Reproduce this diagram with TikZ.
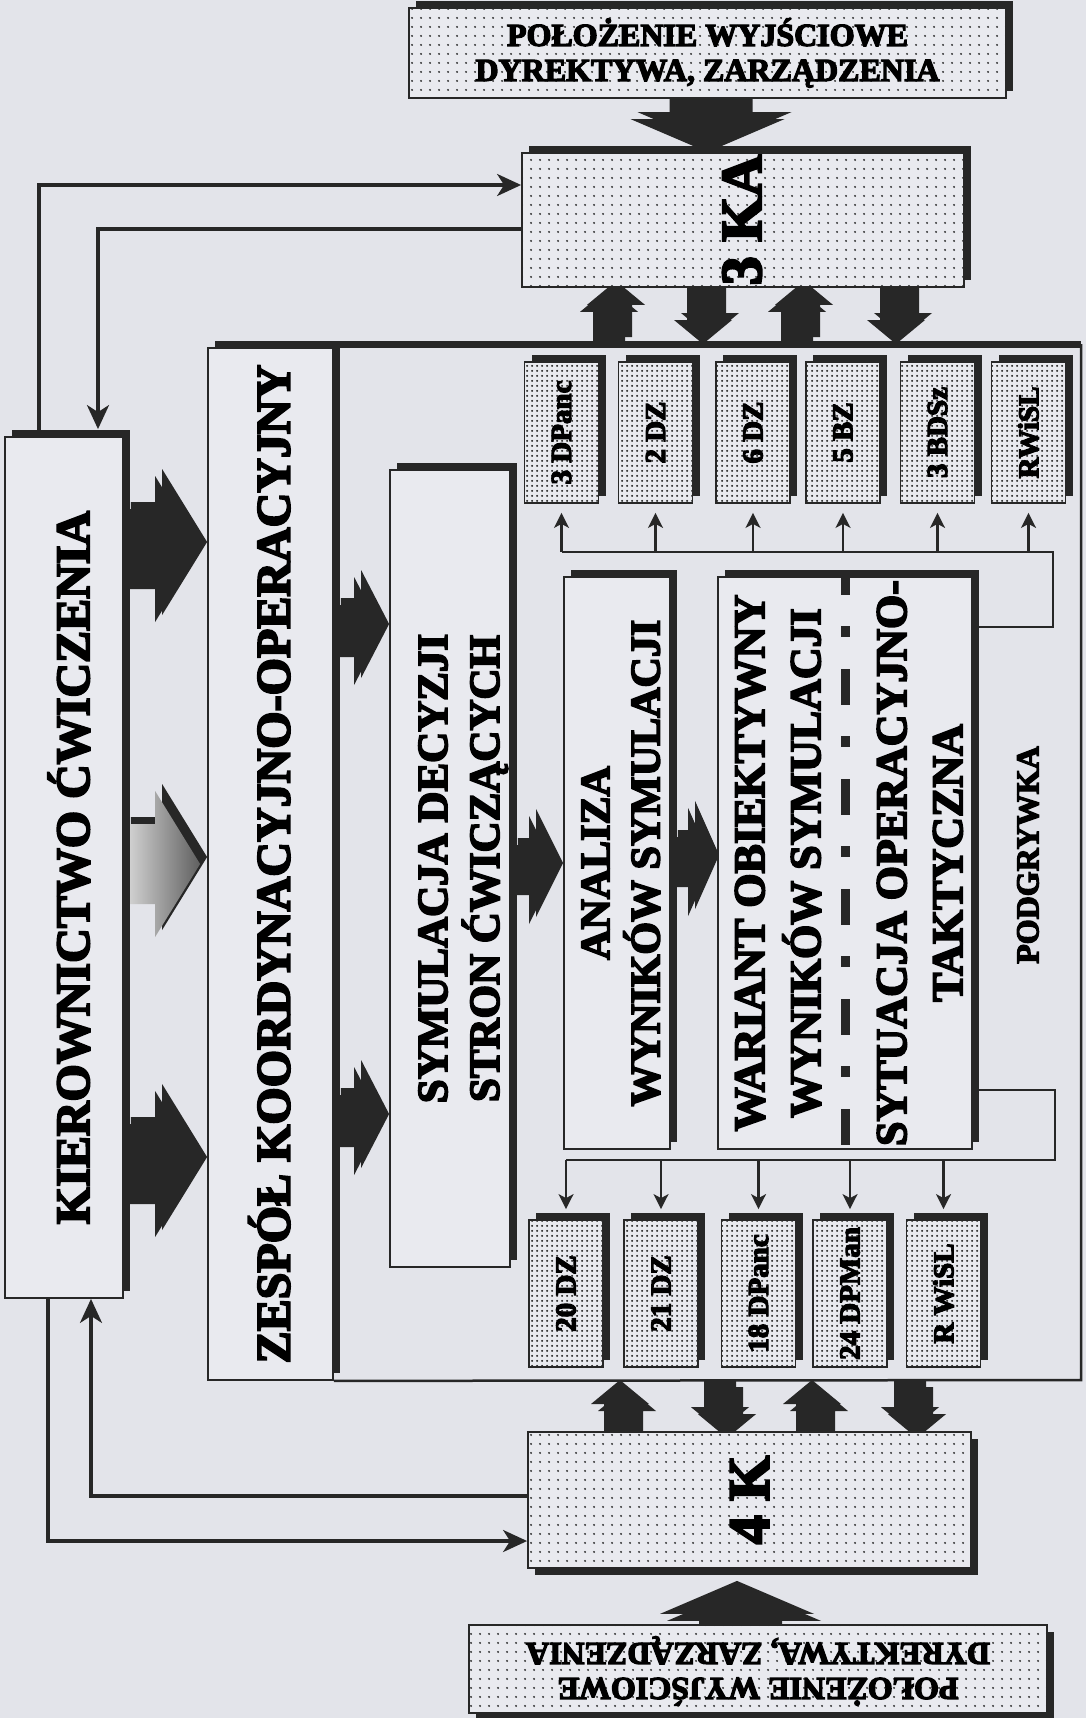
\documentclass[tikz,border=0pt]{standalone}
\usepackage{fontspec}
\setmainfont{Liberation Serif}[BoldFeatures={FakeBold=4}]
\usetikzlibrary{arrows.meta,calc,patterns,shadows}

\definecolor{ink}{HTML}{272727}
\definecolor{sheet}{HTML}{E3E4EA}
\definecolor{boxfill}{HTML}{E9EAEF}

\pgfdeclarelayer{sheetlayer}
\pgfdeclarelayer{under}
\pgfsetlayers{sheetlayer,under,main}

\pgfdeclarepatternformonly{sparsedots}{\pgfpointorigin}{\pgfpoint{8.5pt}{8.5pt}}{\pgfpoint{8.5pt}{8.5pt}}%
  {\pgfpathcircle{\pgfpoint{4.25pt}{4.25pt}}{1.1pt}\pgfusepath{fill}}
\pgfdeclarepatternformonly{densedots}{\pgfpointorigin}{\pgfpoint{5pt}{5pt}}{\pgfpoint{5pt}{5pt}}%
  {\pgfpathcircle{\pgfpoint{2.5pt}{2.5pt}}{1.3pt}\pgfusepath{fill}}

\newcommand{\fatarrow}[7]{%
  \path (#3) coordinate (fa1) (#4) coordinate (fa2);
  \path ($(fa2)!#7!(fa1)$) coordinate (fa3);
  \fill[ink,transform canvas={shift={(7pt,#2)}}]
    ($(fa1)!#5!90:(fa2)$) -- ($(fa3)!#5!-90:(fa1)$) -- ($(fa3)!#6!-90:(fa1)$) -- (fa2)
    -- ($(fa3)!#6!90:(fa1)$) -- ($(fa3)!#5!90:(fa1)$) -- ($(fa1)!#5!-90:(fa2)$) -- cycle;
  \path[#1]
    ($(fa1)!#5!90:(fa2)$) -- ($(fa3)!#5!-90:(fa1)$) -- ($(fa3)!#6!-90:(fa1)$) -- (fa2)
    -- ($(fa3)!#6!90:(fa1)$) -- ($(fa3)!#5!90:(fa1)$) -- ($(fa1)!#5!-90:(fa2)$) -- cycle;
}
\newcommand{\sidetext}[2]{\rotatebox{90}{\raisebox{#1}[\height][\depth]{\begin{tabular}{@{}c@{}}#2\end{tabular}}}}

\begin{document}
\begin{tikzpicture}[x=1pt,y=-1pt,
  panel/.style={draw=ink,line width=1.8pt,fill=boxfill,inner sep=0pt,font=\bfseries},
  upshade/.style={drop shadow={shadow xshift=7pt,shadow yshift=7pt,opacity=1,fill=ink}},
  downshade/.style={drop shadow={shadow xshift=7pt,shadow yshift=-7pt,opacity=1,fill=ink}},
  sparse/.style={postaction={pattern=sparsedots,pattern color=ink}},
  dense/.style={postaction={pattern=densedots,pattern color=ink}},
  cell/.style={panel,upshade,dense,minimum width=74pt,font=\bfseries\fontsize{29}{32}\selectfont},
  link/.style={draw=ink,line width=3.4pt,-{Stealth[length=24pt,width=22pt,inset=7pt]}},
  feed/.style={draw=ink,line width=2.2pt},
  feedtip/.style={feed,-{Stealth[length=15pt,width=15pt,inset=4pt]}},
  dashdot line/.style={draw=ink,line width=9pt,dash pattern=on 36pt off 31pt on 11pt off 32pt,dash phase=17pt}]

\begin{pgfonlayer}{sheetlayer}
  \fill[sheet] (0,0) rectangle (1086,1718);
\end{pgfonlayer}
\useasboundingbox (0,0) rectangle (1086,1718);

\node[panel,upshade,sparse,minimum width=597pt,minimum height=90pt,align=center,
  font=\bfseries\fontsize{32}{35}\selectfont] (polTop) at (707.5,53)
  {POŁOŻENIE WYJŚCIOWE\\DYREKTYWA, ZARZĄDZENIA};
\node[panel,upshade,sparse,minimum width=442pt,minimum height=134pt,
  font=\bfseries\fontsize{58}{60}\selectfont] (ka) at (743,220) {\sidetext{-6pt}{3 KA}};
\node[panel,upshade,minimum width=118pt,minimum height=861pt,
  font=\bfseries\fontsize{48}{50}\selectfont] (kier) at (64,867.5)
  {\sidetext{-12pt}{KIEROWNICTWO ĆWICZENIA}};
\node[panel,upshade,minimum width=125pt,minimum height=1032pt,
  font=\bfseries\fontsize{48}{50}\selectfont] (zes) at (270.5,864)
  {\sidetext{-6pt}{ZESPÓŁ KOORDYNACYJNO-OPERACYJNY}};
\node[panel,upshade,minimum width=120pt,minimum height=797pt,
  font=\bfseries\fontsize{43}{50}\selectfont] (sym) at (450,868.5)
  {\sidetext{-13pt}{SYMULACJA DECYZJI\\STRON ĆWICZĄCYCH}};
\node[panel,upshade,minimum width=106pt,minimum height=572pt,
  font=\bfseries\fontsize{42}{47}\selectfont] (ana) at (617,863)
  {\sidetext{-8pt}{ANALIZA\\WYNIKÓW SYMULACJI}};
\node[panel,upshade,minimum width=248pt,minimum height=572pt,
  font=\bfseries\fontsize{44}{56}\selectfont] (war) at (845,863)
  {\sidetext{-7pt}{WARIANT OBIEKTYWNY\\WYNIKÓW SYMULACJI\\[30pt]SYTUACJA OPERACYJNO-\\TAKTYCZNA}};
\node[panel,downshade,sparse,minimum width=443pt,minimum height=136pt,
  font=\bfseries\fontsize{58}{60}\selectfont] (k4) at (749.5,1500) {\rotatebox{90}{4 K}};
\node[panel,downshade,sparse,minimum width=578pt,minimum height=88pt,
  font=\bfseries\fontsize{32}{35}\selectfont] (polBot) at (758,1669)
  {\rotatebox{180}{\begin{tabular}{@{}c@{}}POŁOŻENIE WYJŚCIOWE\\DYREKTYWA, ZARZĄDZENIA\end{tabular}}};

\foreach \lbl/\px [count=\i] in {3 DPanc/561.5,2 DZ/655.5,6 DZ/753,5 BZ/843,3 BDSz/937.5,RWiSL/1028.5}
  \node[cell,minimum height=141pt] (t\i) at (\px,432.5) {\rotatebox{90}{\lbl}};
\foreach \lbl/\px [count=\i] in {20 DZ/566,21 DZ/661,18 DPanc/758.5,24 DPMan/850,R WiSL/943.5}
  \node[cell,minimum height=147pt] (b\i) at (\px,1293.5) {\rotatebox{90}{\lbl}};

\node[rotate=90,font=\bfseries\fontsize{32}{34}\selectfont] (podgr) at (1028,855) {PODGRYWKA};

\coordinate (fne) at (1081,344);
\coordinate (fse) at (1081,1380);
\draw[ink,line width=7pt] (zes.north east |- fne) -- (fne);
\draw[ink,line width=2.5pt] (zes.south east) -- (fse) -- (fne);

\draw[dashdot line] (war.north) -- (war.south);

\draw[feed] (war.east |- 0,627) -| (1053,552) -- (t1.south |- 0,552);
\foreach \i in {1,...,6}
  \draw[feedtip] (t\i.south |- 0,552) -- ([yshift=-9pt]t\i.south);
\draw[feed] (war.east |- 0,1090) -| (1055,1160) -- (b1.north |- 0,1160);
\foreach \i in {1,...,5}
  \draw[feedtip] (b\i.north |- 0,1160) -- ([yshift=10pt]b\i.north);

\draw[link] (kier.north -| 39,0) |- (ka.west |- 0,185);
\draw[link,shorten >=7pt] (ka.west |- 0,229) -| (kier.north -| 98,0);
\draw[link] (k4.west |- 0,1496) -| (kier.south -| 91,0);
\draw[link] (kier.south -| 48,0) |- (k4.west |- 0,1541);

\begin{pgfonlayer}{under}
  \fatarrow{fill=ink}{7pt}{polTop.south}{ka.north -| polTop.south}{38pt}{77pt}{33pt}
  \fatarrow{fill=ink}{-7pt}{polBot.north -| 737,0}{$(k4.south -| 737,0)+(0,12)$}{38pt}{77pt}{33pt}
  \foreach \ax in {609,797} {\fatarrow{fill=ink}{7pt}{fne -| \ax,0}{ka.south -| \ax,0}{16pt}{29pt}{24pt}}
  \foreach \ax in {703,896} {\fatarrow{fill=ink}{7pt}{ka.south -| \ax,0}{fne -| \ax,0}{16pt}{29pt}{24pt}}
  \foreach \ax in {620,812} {\fatarrow{fill=ink}{-7pt}{k4.north -| \ax,0}{fse -| \ax,0}{16pt}{29pt}{24pt}}
  \foreach \ax in {720,910} {\fatarrow{fill=ink}{-7pt}{fse -| \ax,0}{k4.north -| \ax,0}{16pt}{29pt}{24pt}}
  \fatarrow{fill=ink}{7pt}{kier.east |- 0,549}{$(zes.west |- 0,549)+(-7,0)$}{40pt}{73pt}{45pt}
  \fatarrow{left color=gray!30,right color=gray!75!black}{7pt}{kier.east |- 0,864}{$(zes.west |- 0,864)+(-7,0)$}{40pt}{73pt}{45pt}
  \fatarrow{fill=ink}{7pt}{kier.east |- 0,1164}{$(zes.west |- 0,1164)+(-7,0)$}{40pt}{73pt}{45pt}
  \fatarrow{fill=ink}{7pt}{zes.east |- 0,631}{$(sym.west |- 0,631)+(-7,0)$}{26pt}{54pt}{28pt}
  \fatarrow{fill=ink}{7pt}{zes.east |- 0,1121}{$(sym.west |- 0,1121)+(-7,0)$}{26pt}{54pt}{28pt}
  \fatarrow{fill=ink}{7pt}{sym.east |- 0,870}{$(ana.west |- 0,870)+(-7,0)$}{25pt}{54pt}{27pt}
  \fatarrow{fill=ink}{7pt}{ana.east |- 0,862}{$(war.west |- 0,862)+(-5,0)$}{25pt}{54pt}{24pt}
\end{pgfonlayer}
\end{tikzpicture}
\end{document}
